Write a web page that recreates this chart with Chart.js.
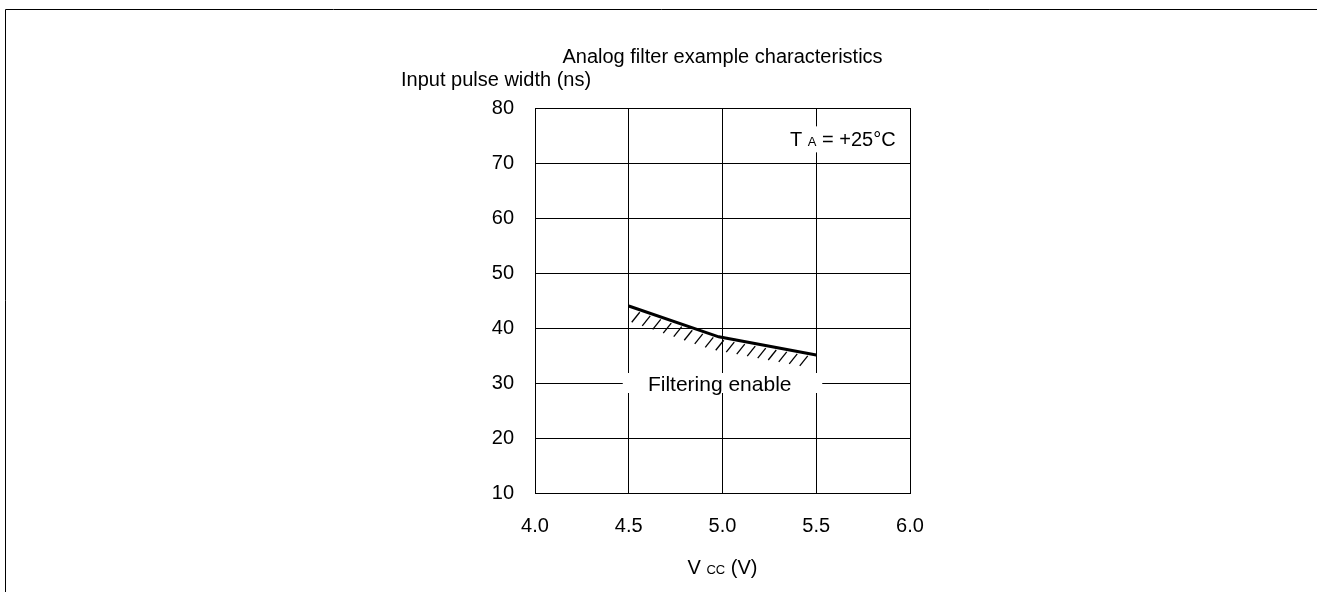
<!DOCTYPE html>
<html>
<head>
<meta charset="utf-8">
<script src="https://cdn.jsdelivr.net/npm/chart.js@4/dist/chart.umd.min.js"></script>
<style>
  body { margin: 0; background: #fff; }
  #wrap { width: 1317px; height: 592px; position: relative; }
</style>
</head>
<body>
<div id="wrap"><canvas id="chart"></canvas></div>
<script>
const vcc = [4.5, 4.98, 5.5];
const pulseWidth = [44, 38.4, 35.1];
const xTicks = [4.0, 4.5, 5.0, 5.5, 6.0];
const yTicks = [10, 20, 30, 40, 50, 60, 70, 80];

const FONT = '"Liberation Sans", Arial, sans-serif';
const SIZE = 20;
const SMALL = 13;

// draws pieces of text of mixed size on one baseline, returns width
function richText(ctx, parts, x, y, align) {
  let w = 0;
  parts.forEach(p => { ctx.font = p[1] + 'px ' + FONT; w += ctx.measureText(p[0]).width; });
  let cx = align === 'center' ? x - w / 2 : x;
  ctx.textAlign = 'left';
  ctx.textBaseline = 'alphabetic';
  parts.forEach(p => {
    ctx.font = p[1] + 'px ' + FONT;
    ctx.fillText(p[0], cx, y);
    cx += ctx.measureText(p[0]).width;
  });
  return w;
}

const decorations = {
  id: 'decorations',
  afterDatasetsDraw(chart) {
    const { ctx, chartArea: a, scales: { x, y } } = chart;
    const pts = chart.getDatasetMeta(0).data.map(p => ({ x: p.x, y: p.y }));
    const lineY = px => {
      for (let i = 0; i < pts.length - 1; i++) {
        if (px <= pts[i + 1].x) {
          const t = (px - pts[i].x) / (pts[i + 1].x - pts[i].x);
          return pts[i].y + t * (pts[i + 1].y - pts[i].y);
        }
      }
      return pts[pts.length - 1].y;
    };
    ctx.save();

    // hatching under the curve
    ctx.strokeStyle = '#000';
    ctx.lineWidth = 1.3;
    const x0 = pts[0].x + 11, x1 = pts[pts.length - 1].x - 1;
    for (let xt = x0; xt <= x1; xt += 10.5) {
      const yt = lineY(xt) + 2.5;
      ctx.beginPath();
      ctx.moveTo(xt, yt);
      ctx.lineTo(xt - 8, yt + 10);
      ctx.stroke();
    }

    // "Filtering enable" with white box over the grid
    const fy = y.getPixelForValue(30);
    const bl = x.getPixelForValue(4.5) - 6, br = x.getPixelForValue(5.5) + 6;
    ctx.fillStyle = '#fff';
    ctx.fillRect(bl, fy - 10, br - bl, 20);
    ctx.fillStyle = '#000';
    ctx.font = '21px ' + FONT;
    ctx.textAlign = 'center';
    ctx.textBaseline = 'middle';
    ctx.fillText('Filtering enable', x.getPixelForValue(4.985), fy + 2);

    // temperature note
    const tx = x.getPixelForValue(5.36), ty = y.getPixelForValue(74.3);
    ctx.fillStyle = '#fff';
    ctx.fillRect(tx - 6, ty - 13, 112, 26);
    ctx.fillStyle = '#000';
    richText(ctx, [['T ', SIZE], ['A', SMALL], [' = +25°C', SIZE]], tx, ty + 7, 'left');

    // titles
    ctx.font = SIZE + 'px ' + FONT;
    ctx.textAlign = 'center';
    ctx.textBaseline = 'middle';
    ctx.fillText('Analog filter example characteristics', (a.left + a.right) / 2, 57);
    ctx.textAlign = 'left';
    ctx.fillText('Input pulse width (ns)', 401, 80);
    richText(ctx, [['V ', SIZE], ['CC', SMALL], [' (V)', SIZE]], (a.left + a.right) / 2, 574, 'center');

    // outer frame
    ctx.strokeStyle = '#000';
    ctx.lineWidth = 1;
    ctx.beginPath();
    ctx.moveTo(5.5, chart.height);
    ctx.lineTo(5.5, 9.5);
    ctx.lineTo(chart.width, 9.5);
    ctx.stroke();
    ctx.restore();
  }
};

new Chart(document.getElementById('chart'), {
  type: 'line',
  data: {
    datasets: [{
      data: vcc.map((v, i) => ({ x: v, y: pulseWidth[i] })),
      borderColor: '#000',
      borderWidth: 3,
      pointRadius: 0,
      tension: 0
    }]
  },
  options: {
    responsive: true,
    maintainAspectRatio: false,
    animation: false,
    layout: { padding: { left: 0, top: 108, right: 407, bottom: 0 } },
    plugins: { legend: { display: false }, tooltip: { enabled: false }, title: { display: false } },
    scales: {
      x: {
        type: 'linear',
        min: 4, max: 6,
        afterBuildTicks: s => { s.ticks = xTicks.map(v => ({ value: v })); },
        afterFit: s => { s.height = 99; },
        ticks: { color: '#000', padding: 21, font: { family: FONT, size: SIZE }, callback: v => v.toFixed(1), maxRotation: 0 },
        grid: { color: '#000', lineWidth: 1, drawTicks: false },
        border: { color: '#000', width: 1 }
      },
      y: {
        type: 'linear',
        min: 10, max: 80,
        afterBuildTicks: s => { s.ticks = yTicks.map(v => ({ value: v })); },
        afterFit: s => { s.width = 535; },
        ticks: { color: '#000', padding: 21, font: { family: FONT, size: SIZE } },
        grid: { color: '#000', lineWidth: 1, drawTicks: false },
        border: { color: '#000', width: 1 }
      }
    }
  },
  plugins: [decorations]
});
</script>
</body>
</html>
